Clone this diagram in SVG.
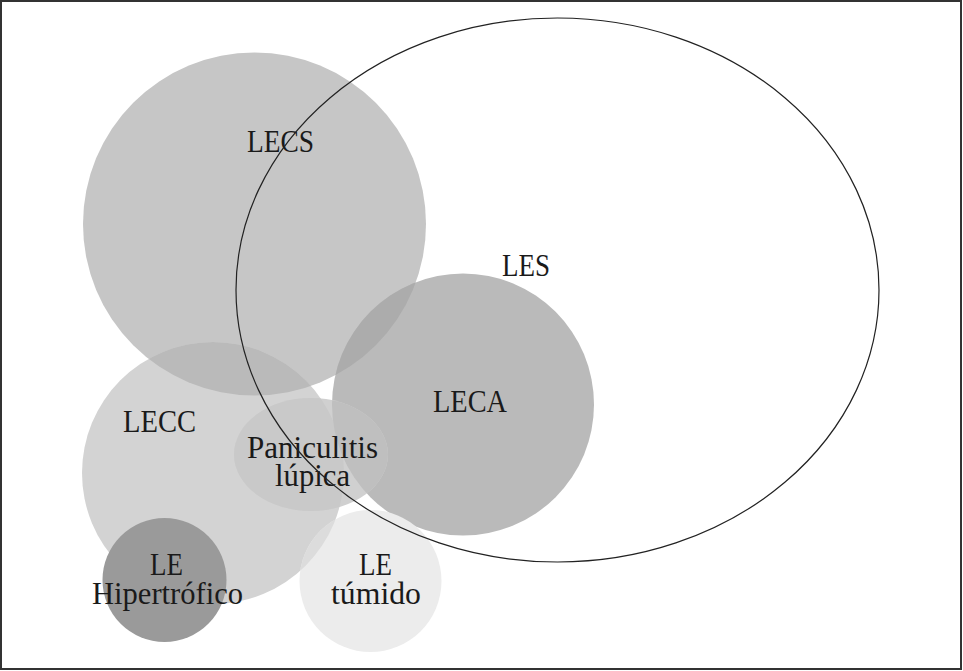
<svg xmlns="http://www.w3.org/2000/svg" width="963" height="671" viewBox="0 0 963 671">
<style>
  text { font-family: "Liberation Serif", "Times New Roman", serif; font-size: 32px; fill: #1a1a1a; }
  .frame { fill: #ffffff; stroke: #333333; stroke-width: 2; }
  .les { fill: none; stroke: #222222; stroke-width: 1.2; }
</style>
<defs>
  <clipPath id="cpLECS"><circle cx="254.5" cy="224" r="171.5"/></clipPath>
  <clipPath id="cpLECA"><circle cx="463" cy="404.5" r="131"/></clipPath>
  <clipPath id="cpLECC"><circle cx="213" cy="473" r="131"/></clipPath>
</defs>
<rect class="frame" x="1" y="1" width="960" height="668"/>

<g id="LECS">
  <circle cx="254.5" cy="224" r="171.5" fill="#c6c6c6"/>
  <text x="247" y="152" textLength="67" lengthAdjust="spacingAndGlyphs">LECS</text>
</g>

<g id="LECA">
  <circle cx="463" cy="404.5" r="131" fill="#bababa"/>
  <circle cx="463" cy="404.5" r="131" fill="#acacac" clip-path="url(#cpLECS)"/>
  <text x="433" y="412" textLength="74" lengthAdjust="spacingAndGlyphs">LECA</text>
</g>

<g id="LECC">
  <circle cx="213" cy="473" r="131" fill="#d3d3d3"/>
  <circle cx="213" cy="473" r="131" fill="#bababa" clip-path="url(#cpLECS)"/>
  <circle cx="213" cy="473" r="131" fill="#b4b4b4" clip-path="url(#cpLECA)"/>
  <text x="123" y="432" textLength="73" lengthAdjust="spacingAndGlyphs">LECC</text>
</g>

<g id="Paniculitis">
  <ellipse cx="311" cy="454.5" rx="77" ry="56.5" fill="#d0d0d0"/>
  <ellipse cx="311" cy="454.5" rx="77" ry="56.5" fill="#c9c9c9" clip-path="url(#cpLECC)"/>
  <ellipse cx="311" cy="454.5" rx="77" ry="56.5" fill="#bfbfbf" clip-path="url(#cpLECA)"/>
  <text><tspan x="247" y="458" textLength="131" lengthAdjust="spacingAndGlyphs">Paniculitis</tspan><tspan x="275" y="486" textLength="75" lengthAdjust="spacingAndGlyphs">lúpica</tspan></text>
</g>

<g id="LE_tumido">
  <circle cx="370.5" cy="581" r="71" fill="#ececec"/>
  <circle cx="370.5" cy="581" r="71" fill="#dcdcdc" clip-path="url(#cpLECC)"/>
  <text><tspan x="359" y="575" textLength="33" lengthAdjust="spacingAndGlyphs">LE</tspan><tspan x="331" y="604" textLength="90" lengthAdjust="spacingAndGlyphs">túmido</tspan></text>
</g>

<g id="LE_hipertrofico">
  <circle cx="164.5" cy="580" r="62" fill="#9a9a9a"/>
  <text><tspan x="150" y="575" textLength="33" lengthAdjust="spacingAndGlyphs">LE</tspan><tspan x="92" y="604" textLength="151" lengthAdjust="spacingAndGlyphs">Hipertrófico</tspan></text>
</g>

<g id="LES">
  <ellipse class="les" cx="557.5" cy="290" rx="321.5" ry="272"/>
  <text x="502" y="276" textLength="48" lengthAdjust="spacingAndGlyphs">LES</text>
</g>
</svg>
